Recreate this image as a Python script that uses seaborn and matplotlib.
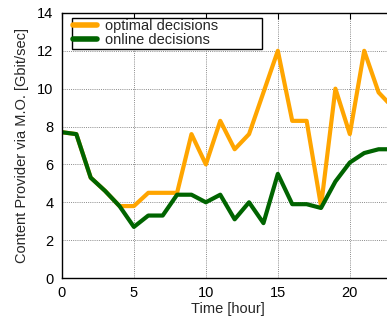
import matplotlib
matplotlib.use("Agg")
import matplotlib.pyplot as plt
import seaborn as sns
import pandas as pd

hours = list(range(24))
optimal = [7.7, 7.6, 5.3, 4.6, 3.8, 3.8, 4.5, 4.5, 4.5, 7.6, 6.0, 8.3, 6.8, 7.6,
           9.8, 12.0, 8.3, 8.3, 3.8, 10.0, 7.6, 12.0, 9.8, 9.0]
online = [7.7, 7.6, 5.3, 4.6, 3.8, 2.7, 3.3, 3.3, 4.4, 4.4, 4.0, 4.4, 3.1, 4.0,
          2.9, 5.5, 3.9, 3.9, 3.7, 5.1, 6.1, 6.6, 6.8, 6.8]
series_names = ["optimal decisions", "online decisions"]
x_ticks = [0, 5, 10, 15, 20]
y_ticks = [0, 2, 4, 6, 8, 10, 12, 14]

df = pd.DataFrame({
    "hour": hours * 2,
    "rate": optimal + online,
    "series": [series_names[0]] * 24 + [series_names[1]] * 24,
})

sns.set_style("white")
plt.rcParams["font.family"] = ["Liberation Sans", "DejaVu Sans"]

fig = plt.figure(figsize=(3.87, 3.31), dpi=100)
ax = fig.add_axes([0.160, 0.160, 1.0155 - 0.160, 0.961 - 0.160])

sns.lineplot(data=df, x="hour", y="rate", hue="series",
             palette={series_names[0]: "#FFA500", series_names[1]: "#006400"},
             linewidth=3.0, ax=ax, legend=True)

ax.set_xlim(0, 23)
ax.set_ylim(0, 14)
ax.set_xticks(x_ticks)
ax.set_yticks(y_ticks)
ax.grid(True, color="#8a8a8a", linestyle=(0, (1, 1.2)), linewidth=0.7)
ax.set_axisbelow(True)
for s in ax.spines.values():
    s.set_color("black")
    s.set_linewidth(1.0)
ax.tick_params(direction="in", length=4, width=0.8, labelsize=10.5,
               top=True, right=True, colors="black", pad=6)
ax.set_xlabel("Time [hour]", fontsize=10.5, labelpad=1)
ax.set_ylabel("Content Provider via M.O. [Gbit/sec]", fontsize=10.5, labelpad=6)

leg = ax.legend(loc="upper left", bbox_to_anchor=(0.030, 0.879, 0.574, 0.102),
                mode="expand", borderaxespad=0, fontsize=10.5,
                frameon=True, fancybox=False, edgecolor="black", framealpha=1,
                handlelength=1.65, borderpad=0.1, labelspacing=0.0,
                handletextpad=0.55)
leg.get_frame().set_linewidth(1.0)
for line in leg.get_lines():
    line.set_linewidth(4.0)

fig.savefig("out.png", dpi=100)
